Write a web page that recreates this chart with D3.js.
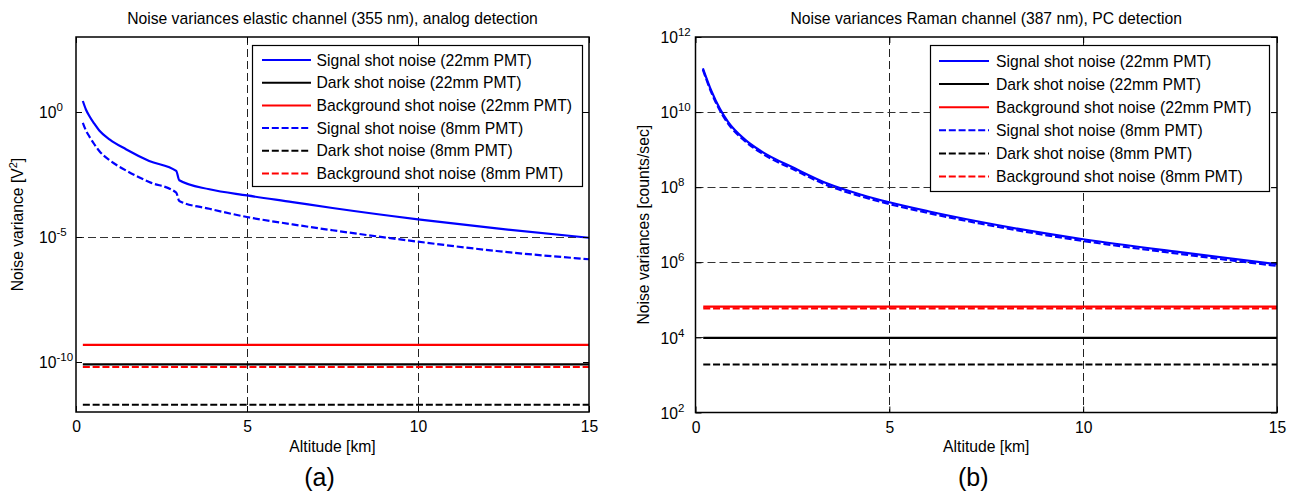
<!DOCTYPE html>
<html>
<head>
<meta charset="utf-8">
<script src="https://cdn.jsdelivr.net/npm/d3@7"></script>
<style>
  body { margin: 0; background: #fff; }
  text { font-family: "Liberation Sans", Arial, Helvetica, sans-serif; fill: #000; }
</style>
</head>
<body>
<svg id="chart" width="1300" height="495"></svg>
<script>
// ---- data ----
const seriesNames = [
  "Signal shot noise (22mm PMT)",
  "Dark shot noise (22mm PMT)",
  "Background shot noise (22mm PMT)",
  "Signal shot noise (8mm PMT)",
  "Dark shot noise (8mm PMT)",
  "Background shot noise (8mm PMT)"
];
const xTicks = [0, 5, 10, 15];

// (a) elastic channel, analog detection [V^2]
const elasticAlt = [0.2, 0.29, 0.39, 0.53, 0.68, 0.99, 1.46, 2.14, 2.93, 3.02, 3.9, 5.0, 6.33, 7.5, 10, 12.3, 15];
const elasticSignal22 = [2.75, 1.26, 0.69, 0.347, 0.182, 0.079, 0.0324, 0.011, 4.4e-3, 1.86e-3, 8.1e-4, 4.6e-4, 2.5e-4, 1.45e-4, 5.1e-5, 2.2e-5, 9.3e-6];
const elasticSignal8 = [0.37, 0.182, 0.105, 0.0525, 0.0275, 0.0115, 4.6e-3, 1.58e-3, 6.0e-4, 2.75e-4, 1.35e-4, 6.3e-5, 3.2e-5, 1.86e-5, 6.5e-6, 2.75e-6, 1.29e-6];
const elasticFlatAlt = [0.2, 15];
const elasticDark22 = [8.1e-11, 8.1e-11];
const elasticBack22 = [4.8e-10, 4.8e-10];
const elasticDark8 = [1.95e-12, 1.95e-12];
const elasticBack8 = [6.3e-11, 6.3e-11];
const elasticYTicks = [1e-10, 1e-5, 1e0];

// (b) Raman channel, PC detection [counts/sec]
const ramanAlt = [0.19, 0.41, 0.63, 0.84, 1.27, 1.7, 2.56, 3.42, 4.28, 5.0, 6.0, 7.33, 10, 12.5, 15];
const ramanSignal22 = [1.47e11, 3.66e10, 1.22e10, 5.49e9, 1.88e9, 9.0e8, 3.18e8, 1.23e8, 6.28e7, 3.96e7, 2.29e7, 1.2e7, 4.11e6, 1.86e6, 8.9e5];
const ramanSignal8 = [1.35e11, 3.3e10, 1.1e10, 4.95e9, 1.7e9, 8.1e8, 2.86e8, 1.1e8, 5.65e7, 3.56e7, 2.06e7, 1.08e7, 3.7e6, 1.67e6, 8.0e5];
const ramanFlatAlt = [0.2, 15];
const ramanDark22 = [9.7e3, 9.7e3];
const ramanBack22 = [6.6e4, 6.6e4];
const ramanDark8 = [1.9e3, 1.9e3];
const ramanBack8 = [5.9e4, 5.9e4];
const ramanYTicks = [1e2, 1e4, 1e6, 1e8, 1e10, 1e12];

// ---- styles ----
const seriesStyle = [
  {color: "#0000ff", dash: null},
  {color: "#000000", dash: null},
  {color: "#ff0000", dash: null},
  {color: "#0000ff", dash: "7,2.8"},
  {color: "#000000", dash: "7,2.8"},
  {color: "#ff0000", dash: "7,2.8"}
];
const fontSize = 15.7;
const svg = d3.select("#chart");

function zip(xs, ys) { return xs.map((v, i) => [v, ys[i]]); }

const panels = [
  {
    left: 76, right: 589, top: 37, bottom: 412,
    yDomain: [1e-12, 1e3], yTicks: elasticYTicks, labelX: 39,
    title: "Noise variances elastic channel (355 nm), analog detection",
    ylabel: ["Noise variance [V", "2", "]"], ylabelX: 23, tag: "(a)",
    series: [
      zip(elasticAlt, elasticSignal22), zip(elasticFlatAlt, elasticDark22), zip(elasticFlatAlt, elasticBack22),
      zip(elasticAlt, elasticSignal8), zip(elasticFlatAlt, elasticDark8), zip(elasticFlatAlt, elasticBack8)
    ],
    legend: {x0: 252.5, y0: 45.5, x1: 582.5, y1: 186.5, row0: 60, step: 22.7, s0: 262, s1: 311, tx: 316.5}
  },
  {
    left: 695.5, right: 1277, top: 37, bottom: 412.5,
    yDomain: [1e2, 1e12], yTicks: ramanYTicks, labelX: 660.5,
    title: "Noise variances Raman channel (387 nm), PC detection",
    ylabel: ["Noise variances [counts/sec]"], ylabelX: 648.5, tag: "(b)",
    series: [
      zip(ramanAlt, ramanSignal22), zip(ramanFlatAlt, ramanDark22), zip(ramanFlatAlt, ramanBack22),
      zip(ramanAlt, ramanSignal8), zip(ramanFlatAlt, ramanDark8), zip(ramanFlatAlt, ramanBack8)
    ],
    legend: {x0: 930.5, y0: 45.5, x1: 1269.5, y1: 191.5, row0: 61, step: 23.1, s0: 939, s1: 989, tx: 996}
  }
];

panels.forEach(p => {
  const x = d3.scaleLinear().domain([0, 15]).range([p.left, p.right]);
  const y = d3.scaleLog().domain(p.yDomain).range([p.bottom, p.top]);
  const g = svg.append("g");

  // grid
  g.append("g").selectAll("line")
    .data(xTicks.slice(1, -1))
    .join("line")
      .attr("x1", d => Math.round(x(d)) + 0.5).attr("x2", d => Math.round(x(d)) + 0.5)
      .attr("y1", p.top).attr("y2", p.bottom)
      .attr("stroke", "#222").attr("stroke-dasharray", "8,4");
  g.append("g").selectAll("line")
    .data(p.yTicks.slice(1, -1))
    .join("line")
      .attr("x1", p.left).attr("x2", p.right)
      .attr("y1", d => Math.round(y(d)) + 0.5).attr("y2", d => Math.round(y(d)) + 0.5)
      .attr("stroke", "#333").attr("stroke-dasharray", "8,4");

  // series
  const line = d3.line()
    .x(d => x(d[0]))
    .y(d => y(d[1]))
    .curve(d3.curveMonotoneX);
  g.append("g").selectAll("path")
    .data(p.series)
    .join("path")
      .attr("fill", "none")
      .attr("stroke", (d, i) => seriesStyle[i].color)
      .attr("stroke-width", 2.2)
      .attr("stroke-dasharray", (d, i) => seriesStyle[i].dash)
      .attr("d", line);

  // axes with inward ticks
  g.append("g")
    .attr("transform", `translate(0,${p.bottom})`)
    .call(d3.axisBottom(x).tickValues(xTicks).tickSizeInner(-6).tickSizeOuter(0).tickPadding(9))
    .call(a => a.select(".domain").remove())
    .call(a => a.selectAll("text").style("font-size", fontSize + "px").attr("font-family", null));
  g.append("g")
    .attr("transform", `translate(0,${p.top})`)
    .call(d3.axisTop(x).tickValues(xTicks).tickSizeInner(-6).tickSizeOuter(0).tickFormat(""))
    .call(a => a.select(".domain").remove());
  g.append("g")
    .attr("transform", `translate(${p.right},0)`)
    .call(d3.axisRight(y).tickValues(p.yTicks).tickSizeInner(-6).tickSizeOuter(0).tickFormat(""))
    .call(a => a.select(".domain").remove());
  const yAxis = g.append("g")
    .attr("transform", `translate(${p.left},0)`)
    .call(d3.axisLeft(y).tickValues(p.yTicks).tickSizeInner(-6).tickSizeOuter(0).tickFormat(""))
    .call(a => a.select(".domain").remove());
  yAxis.selectAll(".tick text")
    .attr("x", p.labelX - p.left)
    .attr("dy", "0.36em")
    .attr("text-anchor", "start")
    .attr("font-family", null)
    .style("font-size", fontSize + "px")
    .each(function(d) {
      const t = d3.select(this);
      t.append("tspan").text("10");
      t.append("tspan")
        .attr("dy", -7)
        .style("font-size", "11.5px")
        .text(Math.round(Math.log10(d)));
    });
  yAxis.selectAll("line").attr("stroke", "#000");

  // frame
  g.append("rect")
    .attr("x", p.left).attr("y", p.top)
    .attr("width", p.right - p.left).attr("height", p.bottom - p.top)
    .attr("fill", "none").attr("stroke", "#000").attr("stroke-width", 1.5);

  // legend
  const L = p.legend;
  const lg = g.append("g");
  lg.append("rect")
    .attr("x", L.x0).attr("y", L.y0)
    .attr("width", L.x1 - L.x0).attr("height", L.y1 - L.y0)
    .attr("fill", "#fff").attr("stroke", "#000").attr("stroke-width", 1.2);
  const rows = lg.selectAll(".row")
    .data(seriesNames)
    .join("g")
      .attr("class", "row")
      .attr("transform", (d, i) => `translate(0,${L.row0 + i * L.step})`);
  rows.append("line")
    .attr("x1", L.s0).attr("x2", L.s1)
    .attr("stroke", (d, i) => seriesStyle[i].color)
    .attr("stroke-width", 2)
    .attr("stroke-dasharray", (d, i) => seriesStyle[i].dash);
  rows.append("text")
    .attr("x", L.tx).attr("dy", "0.36em")
    .style("font-size", fontSize + "px")
    .text(d => d);

  // titles and labels
  const cx = (p.left + p.right) / 2;
  g.append("text")
    .attr("x", cx).attr("y", 24)
    .attr("text-anchor", "middle")
    .style("font-size", fontSize + "px")
    .text(p.title);
  g.append("text")
    .attr("x", cx).attr("y", 452)
    .attr("text-anchor", "middle")
    .style("font-size", fontSize + "px")
    .text("Altitude [km]");
  const yl = g.append("text")
    .attr("transform", `translate(${p.ylabelX},${(p.top + p.bottom) / 2}) rotate(-90)`)
    .attr("text-anchor", "middle")
    .style("font-size", fontSize + "px");
  yl.append("tspan").text(p.ylabel[0]);
  if (p.ylabel.length > 1) {
    yl.append("tspan").attr("dy", -6).style("font-size", "11px").text(p.ylabel[1]);
    yl.append("tspan").attr("dy", 6).text(p.ylabel[2]);
  }
  g.append("text")
    .attr("x", cx - 13).attr("y", 486)
    .attr("text-anchor", "middle")
    .style("font-size", "25px")
    .text(p.tag);
});
</script>
</body>
</html>
